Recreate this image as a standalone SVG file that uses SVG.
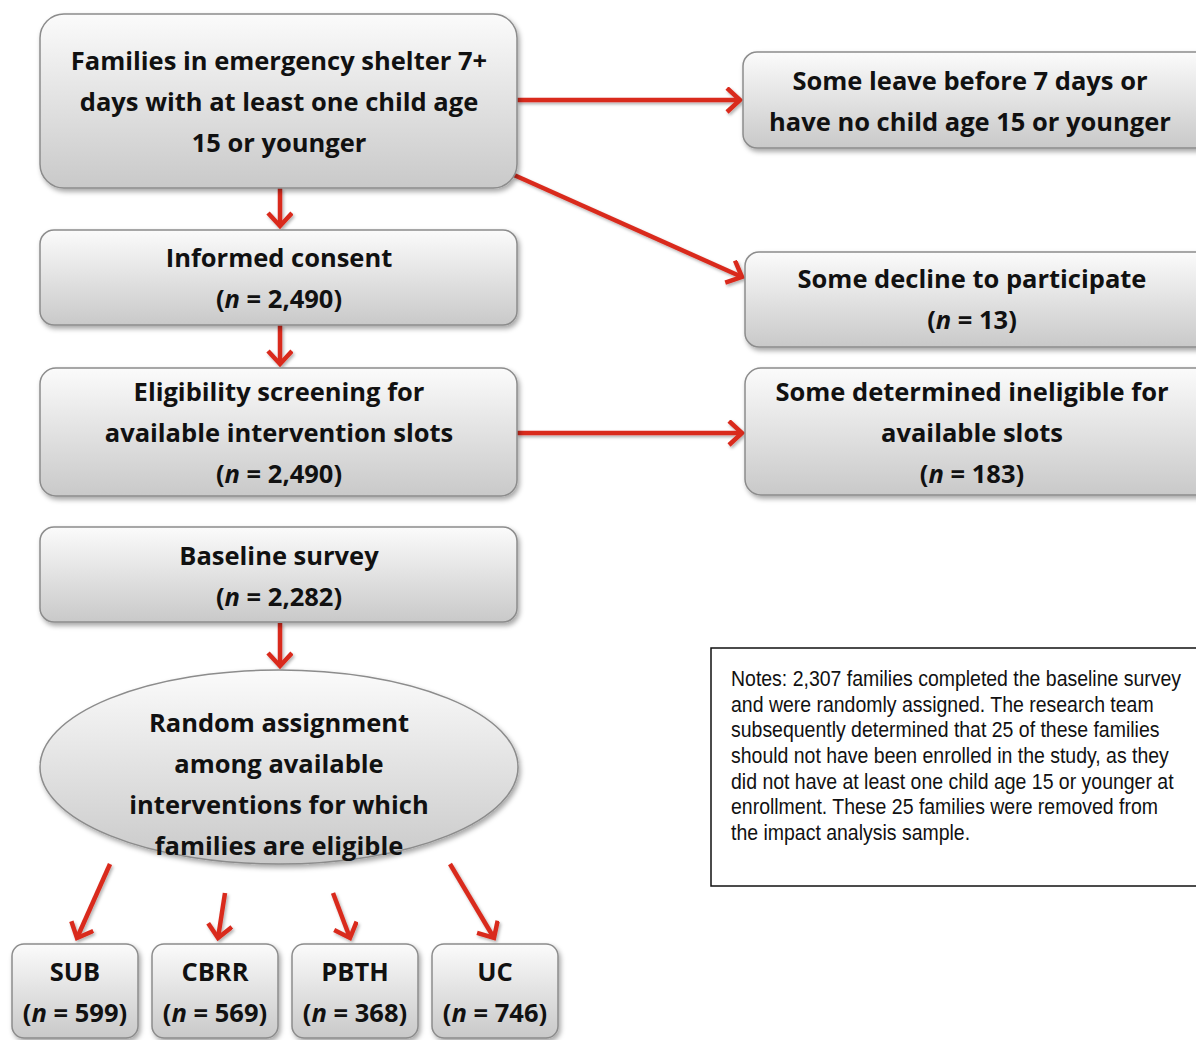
<svg xmlns="http://www.w3.org/2000/svg" width="1196" height="1040" viewBox="0 0 1196 1040">
<defs>
<linearGradient id="g" x1="0" y1="0" x2="0" y2="1">
<stop offset="0" stop-color="#fbfbfb"/>
<stop offset="1" stop-color="#c9c9c9"/>
</linearGradient>
<filter id="sh" x="-10%" y="-10%" width="120%" height="130%">
<feDropShadow dx="2" dy="3" stdDeviation="2.5" flood-color="#000" flood-opacity="0.35"/>
</filter>
<filter id="ash" x="-20%" y="-20%" width="140%" height="140%">
<feDropShadow dx="1.5" dy="2" stdDeviation="1.5" flood-color="#000" flood-opacity="0.3"/>
</filter>
<marker id="ah" markerUnits="userSpaceOnUse" markerWidth="30" markerHeight="30" refX="16" refY="13" orient="auto">
<path d="M3,1 L16,13 L3,25" fill="none" stroke="#d92b1f" stroke-width="4.5" stroke-linejoin="miter"/>
</marker>
</defs>
<style>
.box{fill:url(#g);stroke:#8c8c8c;stroke-width:1.5;filter:url(#sh)}
.t{font-family:"Open Sans","Liberation Sans",sans-serif;font-weight:bold;font-size:25.5px;fill:#111;text-anchor:middle}
.c{fill:none;stroke:#d92b1f;stroke-width:4.5;marker-end:url(#ah)}
.n{font-family:"Liberation Sans",sans-serif;font-size:22px;fill:#111}
</style>
<g id="connectors" filter="url(#ash)">
<line class="c" x1="280" y1="188" x2="280" y2="226"/>
<line class="c" x1="280" y1="325" x2="280" y2="364"/>
<line class="c" x1="280" y1="623" x2="280" y2="666"/>
<line class="c" x1="517" y1="100" x2="740" y2="100"/>
<line class="c" x1="514" y1="175" x2="742" y2="277"/>
<line class="c" x1="517" y1="433" x2="742" y2="433"/>
<line class="c" x1="110" y1="864" x2="77" y2="938"/>
<line class="c" x1="225" y1="893" x2="218" y2="938"/>
<line class="c" x1="333" y1="893" x2="350" y2="938"/>
<line class="c" x1="450" y1="864" x2="494" y2="938"/>
</g>
<g id="n1"><rect class="box" x="40" y="14" width="477" height="174" rx="24"/>
<text class="t" x="279" y="70">Families in emergency shelter 7+</text>
<text class="t" x="279" y="111">days with at least one child age</text>
<text class="t" x="279" y="152">15 or younger</text></g>
<g id="n2"><rect class="box" x="40" y="230" width="477" height="95" rx="14"/>
<text class="t" x="279" y="267">Informed consent</text>
<text class="t" x="279" y="308">(<tspan font-style="italic">n</tspan> = 2,490)</text></g>
<g id="n3"><rect class="box" x="40" y="368" width="477" height="128" rx="16"/>
<text class="t" x="279" y="401">Eligibility screening for</text>
<text class="t" x="279" y="442">available intervention slots</text>
<text class="t" x="279" y="483">(<tspan font-style="italic">n</tspan> = 2,490)</text></g>
<g id="n4"><rect class="box" x="40" y="527" width="477" height="95" rx="14"/>
<text class="t" x="279" y="565">Baseline survey</text>
<text class="t" x="279" y="606">(<tspan font-style="italic">n</tspan> = 2,282)</text></g>
<g id="n5"><ellipse class="box" cx="279" cy="767" rx="239" ry="97"/>
<text class="t" x="279" y="732">Random assignment</text>
<text class="t" x="279" y="773">among available</text>
<text class="t" x="279" y="814">interventions for which</text>
<text class="t" x="279" y="855">families are eligible</text></g>
<g id="r1"><rect class="box" x="743" y="52" width="470" height="96" rx="14"/>
<text class="t" x="970" y="90">Some leave before 7 days or</text>
<text class="t" x="970" y="131">have no child age 15 or younger</text></g>
<g id="r2"><rect class="box" x="745" y="252" width="468" height="95" rx="14"/>
<text class="t" x="972" y="288">Some decline to participate</text>
<text class="t" x="972" y="329">(<tspan font-style="italic">n</tspan> = 13)</text></g>
<g id="r3"><rect class="box" x="745" y="368" width="468" height="127" rx="16"/>
<text class="t" x="972" y="401">Some determined ineligible for</text>
<text class="t" x="972" y="442">available slots</text>
<text class="t" x="972" y="483">(<tspan font-style="italic">n</tspan> = 183)</text></g>
<g id="b1"><rect class="box" x="12" y="944" width="126" height="94" rx="12"/>
<text class="t" x="75" y="981">SUB</text>
<text class="t" x="75" y="1022">(<tspan font-style="italic">n</tspan> = 599)</text></g>
<g id="b2"><rect class="box" x="152" y="944" width="126" height="94" rx="12"/>
<text class="t" x="215" y="981">CBRR</text>
<text class="t" x="215" y="1022">(<tspan font-style="italic">n</tspan> = 569)</text></g>
<g id="b3"><rect class="box" x="292" y="944" width="126" height="94" rx="12"/>
<text class="t" x="355" y="981">PBTH</text>
<text class="t" x="355" y="1022">(<tspan font-style="italic">n</tspan> = 368)</text></g>
<g id="b4"><rect class="box" x="432" y="944" width="126" height="94" rx="12"/>
<text class="t" x="495" y="981">UC</text>
<text class="t" x="495" y="1022">(<tspan font-style="italic">n</tspan> = 746)</text></g>
<g id="notes"><rect x="711" y="648" width="500" height="238" fill="#fff" stroke="#111" stroke-width="1.5"/>
<g transform="translate(731,0) scale(0.885,1)">
<text class="n" x="0" y="686">Notes: 2,307 families completed the baseline survey</text>
<text class="n" x="0" y="712">and were randomly assigned. The research team</text>
<text class="n" x="0" y="737">subsequently determined that 25 of these families</text>
<text class="n" x="0" y="763">should not have been enrolled in the study, as they</text>
<text class="n" x="0" y="789">did not have at least one child age 15 or younger at</text>
<text class="n" x="0" y="814">enrollment. These 25 families were removed from</text>
<text class="n" x="0" y="840">the impact analysis sample.</text>
</g></g>
</svg>
